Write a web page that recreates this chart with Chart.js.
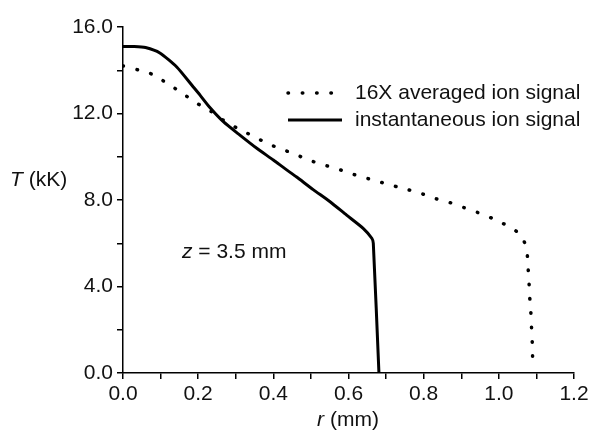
<!DOCTYPE html>
<html lang="en">
<head>
    <meta charset="UTF-8">
    <title>T vs r</title>
    <script src="https://cdn.jsdelivr.net/npm/chart.js"></script>
    <style>
        body { margin: 0; background: #fff; }
    </style>
</head>
<body>
    <canvas id="tempChart" width="592" height="434"></canvas>

    <script>
        // solid curve: instantaneous ion signal
        const rInst = [0, 0.03, 0.06, 0.098, 0.143, 0.186, 0.205, 0.23, 0.267, 0.311, 0.356, 0.4, 0.431, 0.462, 0.506, 0.551, 0.595, 0.639, 0.662, 0.666, 0.681];
        const tInst = [15.1, 15.1, 15.05, 14.8, 14.15, 13.25, 12.85, 12.3, 11.62, 11.0, 10.39, 9.85, 9.45, 9.06, 8.48, 7.92, 7.3, 6.69, 6.23, 6.0, 0.0];

        // dotted curve: 16X averaged ion signal
        const rAvg = [0, 0.043, 0.08, 0.117, 0.157, 0.194, 0.234, 0.266, 0.306, 0.343, 0.38, 0.418, 0.455, 0.492, 0.532, 0.569, 0.606, 0.644, 0.681, 0.718, 0.758, 0.795, 0.832, 0.87, 0.907, 0.944, 0.984, 1.024, 1.058, 1.074, 1.077, 1.08, 1.082, 1.085, 1.087, 1.089, 1.09];
        const tAvg = [14.2, 14.0, 13.8, 13.4, 12.95, 12.5, 12.1, 11.7, 11.3, 10.98, 10.65, 10.37, 10.14, 9.86, 9.63, 9.45, 9.22, 9.03, 8.85, 8.66, 8.48, 8.29, 8.06, 7.88, 7.65, 7.42, 7.14, 6.8, 6.4, 5.75, 5.07, 4.3, 3.55, 2.86, 2.1, 1.38, 0.6];

        const seriesNames = ['16X averaged ion signal', 'instantaneous ion signal'];

        const FONT = '"Liberation Sans", Arial, sans-serif';
        const INK = '#111';

        const toPoints = (xs, ys) => xs.map((x, i) => ({ x: x, y: ys[i] }));

        // axis titles, annotation and legend drawn by hand (mixed italic text)
        const labelsPlugin = {
            id: 'labels',
            afterDraw(chart) {
                const c = chart.ctx;
                c.save();
                c.fillStyle = INK;
                c.textBaseline = 'middle';

                function mixed(parts, x, y, align) {
                    let total = 0;
                    parts.forEach(p => { c.font = p[1] + ' 21px ' + FONT; total += c.measureText(p[0]).width; });
                    let cx = align === 'center' ? x - total / 2 : x;
                    c.textAlign = 'left';
                    parts.forEach(p => {
                        c.font = p[1] + ' 21px ' + FONT;
                        c.fillText(p[0], cx, y);
                        cx += c.measureText(p[0]).width;
                    });
                }

                mixed([['T', 'italic'], [' (kK)', 'normal']], 10, 180, 'left');
                mixed([['r', 'italic'], [' (mm)', 'normal']], 348, 420, 'center');
                mixed([['z', 'italic'], [' = 3.5 mm', 'normal']], 182, 252, 'left');

                // legend
                c.strokeStyle = '#000';
                c.lineWidth = 3.5;
                c.lineCap = 'round';
                c.setLineDash([0.5, 13.8]);
                c.beginPath(); c.moveTo(288, 93); c.lineTo(333, 93); c.stroke();
                c.setLineDash([]);
                c.lineCap = 'butt';
                c.lineWidth = 3;
                c.beginPath(); c.moveTo(288, 120); c.lineTo(342, 120); c.stroke();
                mixed([[seriesNames[0], 'normal']], 355, 93, 'left');
                mixed([[seriesNames[1], 'normal']], 355, 120, 'left');
                c.restore();
            }
        };

        const ctx = document.getElementById('tempChart').getContext('2d');
        new Chart(ctx, {
            type: 'scatter',
            data: {
                datasets: [{
                    label: seriesNames[0],
                    data: toPoints(rAvg, tAvg),
                    showLine: true,
                    borderColor: '#000',
                    borderWidth: 3.5,
                    borderDash: [0.5, 13.8],
                    borderCapStyle: 'round',
                    pointRadius: 0,
                    tension: 0.2,
                }, {
                    label: seriesNames[1],
                    data: toPoints(rInst, tInst),
                    showLine: true,
                    borderColor: '#000',
                    borderWidth: 3,
                    borderJoinStyle: 'round',
                    pointRadius: 0,
                    tension: 0.2,
                }],
            },
            options: {
                responsive: false,
                animation: false,
                layout: { padding: { top: 27, right: 18, left: 0, bottom: 0 } },
                plugins: { legend: { display: false }, tooltip: { enabled: false } },
                scales: {
                    x: {
                        type: 'linear',
                        min: 0, max: 1.2,
                        afterFit: s => { s.height = 61; },
                        border: { display: true, color: '#000', width: 1.5 },
                        grid: { drawOnChartArea: false, drawTicks: true, tickLength: 6, color: '#000', lineWidth: 1.5 },
                        ticks: {
                            stepSize: 0.1,
                            color: INK,
                            padding: 3,
                            maxRotation: 0,
                            autoSkip: false,
                            font: { family: FONT, size: 21 },
                            callback: v => (Math.round(v * 10) % 2 === 0 ? v.toFixed(1) : ''),
                        },
                    },
                    y: {
                        min: 0, max: 16,
                        afterFit: s => { s.width = 123; },
                        border: { display: true, color: '#000', width: 1.5 },
                        grid: { drawOnChartArea: false, drawTicks: true, tickLength: 6, color: '#000', lineWidth: 1.5 },
                        ticks: {
                            stepSize: 2,
                            color: INK,
                            padding: 4,
                            autoSkip: false,
                            font: { family: FONT, size: 21 },
                            callback: v => (Math.round(v) % 4 === 0 ? v.toFixed(1) : ''),
                        },
                    },
                },
            },
            plugins: [labelsPlugin],
        });
    </script>
</body>
</html>
